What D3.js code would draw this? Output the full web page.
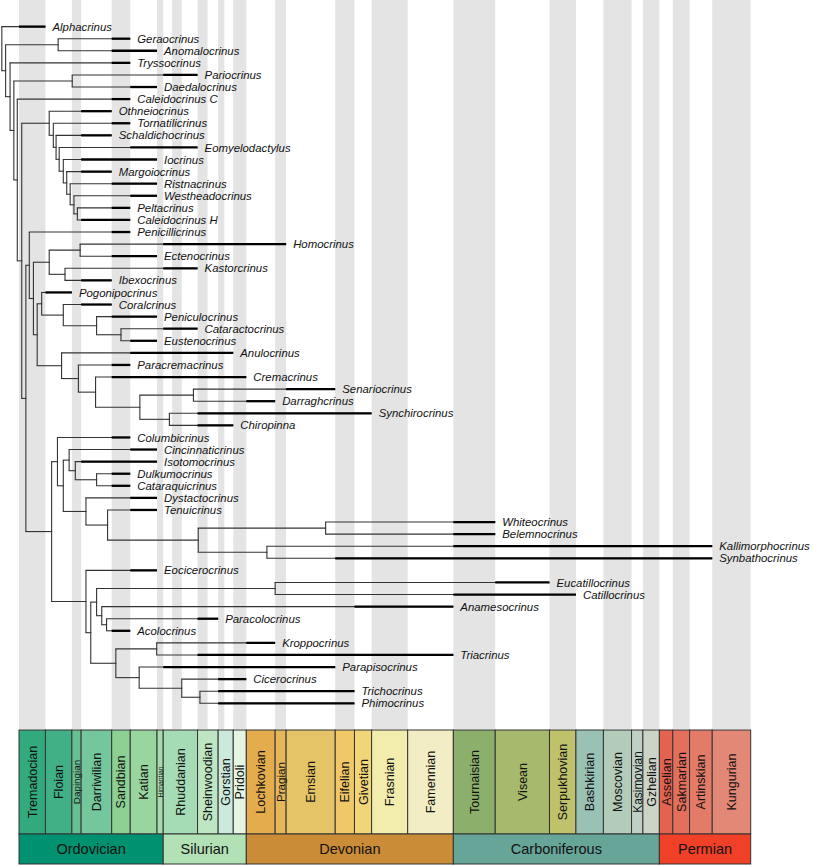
<!DOCTYPE html>
<html><head><meta charset="utf-8">
<script src="https://cdnjs.cloudflare.com/ajax/libs/d3/7.8.5/d3.min.js"></script>
<style>body{margin:0;background:#fff}svg{display:block}</style>
</head><body>
<svg id="chart" width="813" height="866"></svg>
<script>
// ---------- DATA ----------
// Stages shown in the timescale bar (ages in Ma, older boundary first)
const stageNames = ["Tremadocian","Floian","Dapingian","Darriwilian","Sandbian","Katian","Hirnantian",
  "Rhuddanian","Sheinwoodian","Gorstian","Pridoli",
  "Lochkovian","Pragian","Emsian","Eifelian","Givetian","Frasnian","Famennian",
  "Tournaisian","Visean","Serpukhovian","Bashkirian","Moscovian","Kasimovian","Gzhelian",
  "Asselian","Sakmarian","Artinskian","Kungurian"];
const stageBounds = [485.4,477.7,470.0,467.3,458.4,453.0,445.2,443.4,433.4,427.4,423.0,419.2,
  410.8,407.6,393.3,387.7,382.7,372.2,358.9,346.7,330.9,323.2,315.2,307.0,303.7,298.9,295.0,290.1,283.5,272.3];
const stageColors = ["#33a97e","#41b087","#66c092","#74c69c","#8cd094","#99d69f","#a6dbab",
  "#a6dcb5","#bfe6c3","#cce9dd","#e6f5e1",
  "#e5ac4d","#e5b75a","#e5c468","#f1c868","#f1d576","#f2edad","#f2edc5",
  "#8cb06c","#a6b96c","#bfc26b","#99c2b5","#b3cbb9","#bfd0c5","#ccd4c7",
  "#e36350","#e36f5c","#e37b68","#e38776"];
const periodNames = ["Ordovician","Silurian","Devonian","Carboniferous","Permian"];
const periodBounds = [485.4,443.4,419.2,358.9,298.9,272.3];
const periodColors = ["#009270","#b3e1b6","#cb8c37","#67a599","#f04028"];
// Full stage boundaries used for the alternating background bands
const bandBounds = [485.4,477.7,470.0,467.3,458.4,453.0,445.2,443.4,440.8,438.0,433.4,430.5,427.4,425.6,423.0,
  419.2,410.8,407.6,393.3,387.7,382.7,372.2,358.9,346.7,330.9,323.2,315.2,307.0,303.7,298.9,295.0,290.1,283.5,272.3];

// Internal nodes of the tree: id, parent, age (Ma)
const nodeIds     = ["root","n1","n2","n3","n4","n5","n6","n7","n8","n9","geAn","paDa",
  "l1","l2","l3","l4","l5","l6","l7","l8","l9","hI","hE","kI","p1","p2","p3","p4",
  "a1","a2","a3","a4","a5","a6","nb","c1","c2","c3","c4","c5","d1","d2","d3","wb","ks",
  "e0","e1","e2","ec","e3","pa","k1","kt","k2","k3","tp"];
const nodeParents = [null,"root","n1","n2","n3","n4","n5","n6","n7","n8","n1","n3",
  "n5","l1","l2","l3","l4","l5","l6","l7","l8","n8","hI","hI","n9","p1","p2","p3",
  "n9","a1","a2","a3","a4","a4","n6","nb","c1","c2","c3","c4","c2","d1","d2","d3","d3",
  "nb","e0","e1","e2","e2","e3","e1","k1","k1","k2","k3"];
const nodeAges    = [490.4,489.3,488.0,486.9,485.9,484.6,483.4,482.4,481.2,480.1,474.0,469.9,
  476.6,475.4,474.6,473.7,472.5,471.5,470.5,469.4,468.4,476.6,467.6,472.0,478.8,472.5,462.8,455.7,
  473.0,468.1,463.1,450.2,434.6,441.6,475.9,474.2,472.5,470.8,469.0,462.8,465.9,459.6,433.2,396.1,413.2,
  465.9,464.5,462.8,410.8,461.3,459.9,457.2,445.3,450.4,438.0,432.7];

// Terminal taxa (top to bottom), parent node, first and last appearance (Ma)
const taxa = ["Alphacrinus","Geraocrinus","Anomalocrinus","Tryssocrinus","Pariocrinus","Daedalocrinus",
  "Caleidocrinus C","Othneiocrinus","Tornatilicrinus","Schaldichocrinus","Eomyelodactylus","Iocrinus",
  "Margoiocrinus","Ristnacrinus","Westheadocrinus","Peltacrinus","Caleidocrinus H","Penicillicrinus",
  "Homocrinus","Ectenocrinus","Kastorcrinus","Ibexocrinus","Pogonipocrinus","Coralcrinus","Peniculocrinus",
  "Cataractocrinus","Eustenocrinus","Anulocrinus","Paracremacrinus","Cremacrinus","Senariocrinus",
  "Darraghcrinus","Synchirocrinus","Chiropinna","Columbicrinus","Cincinnaticrinus","Isotomocrinus",
  "Dulkumocrinus","Cataraquicrinus","Dystactocrinus","Tenuicrinus","Whiteocrinus","Belemnocrinus",
  "Kallimorphocrinus","Synbathocrinus","Eocicerocrinus","Eucatillocrinus","Catillocrinus","Anamesocrinus",
  "Paracolocrinus","Acolocrinus","Kroppocrinus","Triacrinus","Parapisocrinus","Cicerocrinus",
  "Trichocrinus","Phimocrinus"];
const taxonParents = ["root","geAn","geAn","n2","paDa","paDa","n4","l1","l2","l3","l4","l5","l6","l7","l8",
  "l9","l9","n7","hE","hE","kI","kI","p1","p2","p3","p4","p4","a1","a2","a3","a5","a5","a6","a6",
  "c1","c3","c4","c5","c5","d1","d2","wb","wb","ks","ks","e0","ec","ec","e3","pa","pa","kt","kt",
  "k2","k3","tp","tp"];
const fad = [485.4,458.4,458.4,458.4,443.4,453.0,458.4,467.3,458.4,467.3,453.0,467.3,467.3,458.4,453.0,
  458.4,467.3,458.4,443.4,458.4,443.4,467.3,477.7,467.3,458.4,443.4,453.0,453.0,458.4,458.4,407.6,
  419.2,433.4,433.4,458.4,453.0,467.3,458.4,458.4,453.0,453.0,358.9,358.9,358.9,393.3,453.0,346.7,
  358.9,387.7,433.4,458.4,419.2,433.4,443.4,427.4,427.4,427.4];
const lad = [477.7,453.0,445.2,453.0,433.4,445.2,453.0,458.4,453.0,458.4,433.4,445.2,458.4,445.2,445.2,
  453.0,453.0,453.0,407.6,445.2,433.4,458.4,470.0,458.4,445.2,433.4,445.2,423.0,453.0,419.2,393.3,
  410.8,382.7,423.0,453.0,445.2,445.2,453.0,453.0,445.2,445.2,346.7,346.7,283.5,283.5,445.2,330.9,
  323.2,358.9,427.4,453.0,410.8,358.9,393.3,419.2,387.7,387.7];

// ---------- DRAW ----------
const svg = d3.select("#chart");
const x = d3.scaleLinear().domain([485.4, 272.3]).range([19, 750.7]);
const y = d3.scaleLinear().domain([0, taxa.length - 1]).range([26.6, 703.3]);
const bandTop = 0, bandBottom = 729;
const barTop = 730, stageBottom = 834, periodBottom = 864;
const font = "'Liberation Sans', Arial, sans-serif";

// background bands
const bands = d3.range(0, bandBounds.length - 1).filter(i => i % 2 === 0)
  .map(i => [bandBounds[i], bandBounds[i + 1]]);
svg.append("g").selectAll("rect").data(bands).join("rect")
  .attr("x", d => x(d[0])).attr("width", d => x(d[1]) - x(d[0]))
  .attr("y", bandTop).attr("height", bandBottom - bandTop)
  .attr("fill", "#e4e4e4");

// tree
const rows = nodeIds.map((id, i) => ({id, parent: nodeParents[i], age: nodeAges[i]}))
  .concat(taxa.map((t, i) => ({id: "t:" + t, parent: taxonParents[i], name: t, idx: i, fad: fad[i], lad: lad[i]})));
const root = d3.stratify().id(d => d.id).parentId(d => d.parent)(rows);
root.eachAfter(n => {
  if (!n.children) { n.yy = y(n.data.idx); n.xx = x(n.data.fad); }
  else {
    const ys = n.children.map(c => c.yy);
    n.y0 = d3.min(ys); n.y1 = d3.max(ys);
    n.yy = (n.y0 + n.y1) / 2;
    n.xx = x(n.data.age);
  }
});
const gTree = svg.append("g");
const internal = root.descendants().filter(n => n.children);
gTree.selectAll("line.v").data(internal).join("line")
  .attr("x1", n => n.xx).attr("x2", n => n.xx)
  .attr("y1", n => n.y0).attr("y2", n => n.y1)
  .attr("stroke", "#333").attr("stroke-width", 1.1);
const branches = root.descendants().filter(n => n.parent);
gTree.selectAll("line.h").data(branches).join("line")
  .attr("x1", n => n.parent.xx - 0.55)
  .attr("x2", n => n.children ? n.xx + 0.55 : x(n.data.lad))
  .attr("y1", n => n.yy).attr("y2", n => n.yy)
  .attr("stroke", "#333").attr("stroke-width", 1.1);
const leaves = root.leaves();
gTree.selectAll("line.r").data(leaves).join("line")
  .attr("x1", n => x(n.data.fad)).attr("x2", n => x(n.data.lad))
  .attr("y1", n => n.yy).attr("y2", n => n.yy)
  .attr("stroke", "#000").attr("stroke-width", 2.3);
gTree.selectAll("text").data(leaves).join("text")
  .attr("x", n => x(n.data.lad) + 7).attr("y", n => n.yy).attr("dy", "0.36em")
  .attr("font-family", font)
  .attr("font-style", "italic").attr("font-size", 11.4).attr("fill", "#111")
  .text(n => n.data.name);

// timescale bar
const stages = stageNames.map((s, i) => ({name: s, a: stageBounds[i], b: stageBounds[i + 1], c: stageColors[i]}));
const gS = svg.append("g");
gS.selectAll("rect").data(stages).join("rect")
  .attr("x", d => x(d.a)).attr("width", d => x(d.b) - x(d.a))
  .attr("y", barTop).attr("height", stageBottom - barTop)
  .attr("fill", d => d.c).attr("stroke", "#333").attr("stroke-width", 1);
gS.selectAll("text").data(stages).join("text")
  .attr("transform", d => `translate(${(x(d.a) + x(d.b)) / 2},${(barTop + stageBottom) / 2}) rotate(-90)`)
  .attr("text-anchor", "middle").attr("dy", "0.36em")
  .attr("font-family", font)
  .attr("font-size", d => Math.min(12.5, (x(d.b) - x(d.a)) + 0.6))
  .attr("fill", "#111")
  .text(d => d.name);

const periods = periodNames.map((p, i) => ({name: p, a: periodBounds[i], b: periodBounds[i + 1], c: periodColors[i]}));
const gP = svg.append("g");
gP.selectAll("rect").data(periods).join("rect")
  .attr("x", d => x(d.a)).attr("width", d => x(d.b) - x(d.a))
  .attr("y", stageBottom).attr("height", periodBottom - stageBottom)
  .attr("fill", d => d.c).attr("stroke", "#333").attr("stroke-width", 1);
gP.selectAll("text").data(periods).join("text")
  .attr("x", d => (x(d.a) + x(d.b)) / 2).attr("y", (stageBottom + periodBottom) / 2).attr("dy", "0.36em")
  .attr("text-anchor", "middle")
  .attr("font-family", font)
  .attr("font-size", 14.5).attr("fill", "#111")
  .text(d => d.name);
</script>
</body></html>
